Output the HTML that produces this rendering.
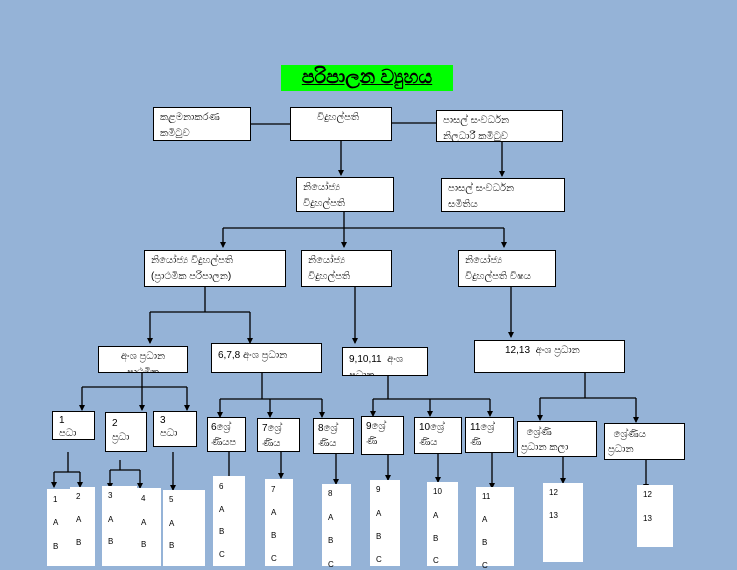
<!DOCTYPE html>
<html><head><meta charset="utf-8">
<style>
body{margin:0;width:737px;height:566px;background:#95b3d7;position:relative;overflow:hidden;font-family:"Liberation Sans","Noto Sans CJK SC","DejaVu Sans",sans-serif;}
.b{position:absolute;background:#fff;border:1px solid #000;box-sizing:border-box;font-size:10px;line-height:16px;padding:2px 6px;color:#000;overflow:hidden;}
.c{position:absolute;background:#fff;font-size:8px;color:#000;box-sizing:border-box;padding-left:6px;}
.c div{position:absolute;left:6px;}
svg{position:absolute;left:0;top:0;}
.t{position:absolute;left:281px;top:65px;width:172px;height:26px;background:#00ff00;font-weight:bold;font-size:19px;line-height:26px;text-align:center;text-decoration:underline;}
</style></head><body>
<div class="t">පරිපාලන ව්‍යුහය</div>
<svg width="737" height="566" stroke="#000" stroke-width="1.3" fill="none">
<defs><marker id="a" markerWidth="6" markerHeight="6" refX="3" refY="5" orient="auto"><path d="M0,0 L6,0 L3,6z" fill="#000" stroke="none" transform="rotate(-90 3 3)"/></marker></defs>
<g>
<path d="M251 124H292M392 123H436"/>
<path d="M341 141V175M502 142V176"/>
<path d="M344 212V228M223 228H504M223 228V247M344 228V247M504 228V247"/>
<path d="M205 287V312M150 312H250M150 312V343M250 312V343M355 287V343M511 287V337"/>
<path d="M142 373V387M82 387H187M82 387V410M142 387V410M187 387V410"/>
<path d="M262 373V399M220 399H322M220 399V417M270 399V417M322 399V417"/>
<path d="M388 376V399M373 399H490M373 399V416M430 399V416M490 399V416"/>
<path d="M585 373V398M540 398H636M540 398V420M636 398V422"/>
<path d="M68 452V472M54 472H80M54 472V487M80 472V487M120 460V470M110 470H140M110 470V488M140 470V488"/>
<path d="M173 452V490M229 452V482M281 452V478M336 454V484M388 455V480M438 454V482M492 453V488M563 457V483M646 460V489"/>
</g>
<g fill="#000" stroke="none">
<path d="M338 170h6l-3 6zM499 171h6l-3 6zM220 242h6l-3 6zM341 242h6l-3 6zM501 242h6l-3 6zM147 338h6l-3 6zM247 338h6l-3 6zM352 338h6l-3 6zM508 332h6l-3 6z"/>
<path d="M79 405h6l-3 6zM139 405h6l-3 6zM184 405h6l-3 6zM217 412h6l-3 6zM267 412h6l-3 6zM319 412h6l-3 6zM370 411h6l-3 6zM427 411h6l-3 6zM487 411h6l-3 6zM537 415h6l-3 6zM633 417h6l-3 6z"/>
<path d="M51 482h6l-3 6zM77 482h6l-3 6zM107 483h6l-3 6zM137 483h6l-3 6zM170 485h6l-3 6zM226 477h6l-3 6zM278 473h6l-3 6zM333 479h6l-3 6zM385 475h6l-3 6zM435 477h6l-3 6zM489 483h6l-3 6zM560 478h6l-3 6zM643 484h6l-3 6z"/>
</g>
</svg>
<div class="b" style="left:153px;top:107px;width:98px;height:34px;">කළමනාකරණ<br>කමිටුව</div>
<div class="b" style="left:290px;top:107px;width:102px;height:34px;padding-left:26px">විදුහල්පති</div>
<div class="b" style="left:436px;top:110px;width:127px;height:32px;">පාසල් සංවර්ධන<br>නිලධාරී කමිටුව</div>
<div class="b" style="left:296px;top:177px;width:98px;height:35px;">නියෝජ්‍ය<br>විදුහල්පති</div>
<div class="b" style="left:441px;top:178px;width:124px;height:34px;">පාසල් සංවර්ධන<br>සමිතිය</div>
<div class="b" style="left:144px;top:250px;width:142px;height:37px;">නියෝජ්‍ය විදුහල්පති<br>(ප්‍රාථමික පරිපාලන)</div>
<div class="b" style="left:301px;top:250px;width:91px;height:37px;">නියෝජ්‍ය<br>විදුහල්පති</div>
<div class="b" style="left:458px;top:250px;width:98px;height:37px;">නියෝජ්‍ය<br>විදුහල්පති විෂය</div>
<div class="b" style="left:98px;top:346px;width:90px;height:27px;text-align:center">අංශ ප්‍රධාන<br>ප්‍රාථමික</div>
<div class="b" style="left:211px;top:343px;width:111px;height:30px;padding-top:4px">6,7,8 අංශ ප්‍රධාන</div>
<div class="b" style="left:342px;top:347px;width:86px;height:29px;padding-top:4px">9,10,11 &nbsp;අංශ<br>ප්‍රධාන</div>
<div class="b" style="left:474px;top:340px;width:151px;height:33px;padding-left:30px">12,13 &nbsp;අංශ ප්‍රධාන</div>
<div class="b" style="left:52px;top:411px;width:43px;height:29px;line-height:13px;">1<br>පධා</div>
<div class="b" style="left:105px;top:412px;width:42px;height:40px;line-height:14px;padding-top:4px">2<br>ප්‍රධා</div>
<div class="b" style="left:153px;top:411px;width:44px;height:36px;line-height:13px;">3<br>පධා</div>
<div class="b" style="left:207px;top:417px;width:39px;height:35px;padding:2px 3px;line-height:15px">6ශ්‍රේ<br>ණියප</div>
<div class="b" style="left:257px;top:418px;width:43px;height:34px;padding:2px 4px;line-height:15px">7ශ්‍රේ<br>ණිය</div>
<div class="b" style="left:313px;top:418px;width:41px;height:36px;padding:2px 4px;line-height:15px">8ශ්‍රේ<br>ණිය</div>
<div class="b" style="left:361px;top:416px;width:43px;height:39px;padding:2px 4px;line-height:15px">9ශ්‍රේ<br>ණි</div>
<div class="b" style="left:414px;top:417px;width:48px;height:37px;padding:2px 4px;line-height:15px">10ශ්‍රේ<br>ණිය</div>
<div class="b" style="left:465px;top:417px;width:49px;height:36px;padding:2px 4px;line-height:15px">11ශ්‍රේ<br>ණි</div>
<div class="b" style="left:517px;top:421px;width:80px;height:36px;padding:3px 3px;line-height:15px">&nbsp;&nbsp;ශ්‍රේණි<br>ප්‍රධාන කලා</div>
<div class="b" style="left:604px;top:423px;width:81px;height:37px;padding:3px 3px;line-height:15px">&nbsp;&nbsp;ශ්‍රේණිය<br>ප්‍රධාන</div>

<div class="c" style="left:47px;top:489px;width:26px;height:77px;"><div style="top:6px">1</div><div style="top:29px">A</div><div style="top:53px">B</div></div>
<div class="c" style="left:70px;top:487px;width:25px;height:79px;"><div style="top:5px">2</div><div style="top:28px">A</div><div style="top:51px">B</div></div>
<div class="c" style="left:102px;top:486px;width:35px;height:80px;"><div style="top:5px">3</div><div style="top:29px">A</div><div style="top:51px">B</div></div>
<div class="c" style="left:135px;top:488px;width:26px;height:78px;"><div style="top:6px">4</div><div style="top:30px">A</div><div style="top:52px">B</div></div>
<div class="c" style="left:163px;top:490px;width:42px;height:76px;"><div style="top:5px">5</div><div style="top:29px">A</div><div style="top:51px">B</div></div>
<div class="c" style="left:213px;top:476px;width:32px;height:90px;"><div style="top:6px">6</div><div style="top:29px">A</div><div style="top:51px">B</div><div style="top:74px">C</div></div>
<div class="c" style="left:265px;top:479px;width:28px;height:87px;"><div style="top:6px">7</div><div style="top:29px">A</div><div style="top:52px">B</div><div style="top:75px">C</div></div>
<div class="c" style="left:322px;top:484px;width:29px;height:82px;"><div style="top:5px">8</div><div style="top:29px">A</div><div style="top:52px">B</div><div style="top:76px">C</div></div>
<div class="c" style="left:370px;top:480px;width:30px;height:86px;"><div style="top:5px">9</div><div style="top:29px">A</div><div style="top:52px">B</div><div style="top:75px">C</div></div>
<div class="c" style="left:427px;top:482px;width:31px;height:84px;"><div style="top:5px">10</div><div style="top:29px">A</div><div style="top:52px">B</div><div style="top:74px">C</div></div>
<div class="c" style="left:476px;top:487px;width:38px;height:79px;"><div style="top:5px">11</div><div style="top:28px">A</div><div style="top:51px">B</div><div style="top:74px">C</div></div>
<div class="c" style="left:543px;top:483px;width:40px;height:79px;"><div style="top:5px">12</div><div style="top:28px">13</div></div>
<div class="c" style="left:637px;top:485px;width:36px;height:62px;"><div style="top:5px">12</div><div style="top:29px">13</div></div>
</body></html>
